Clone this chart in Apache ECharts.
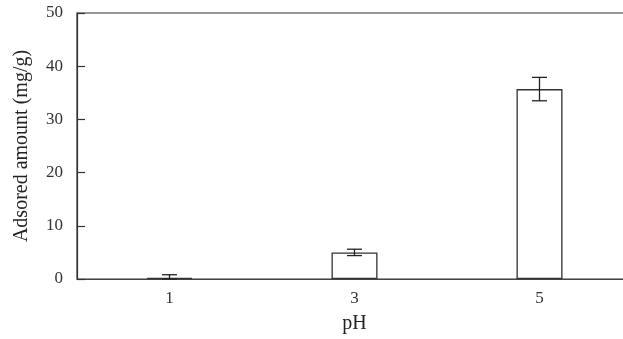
<!DOCTYPE html>
<html>
<head>
<meta charset="utf-8">
<script src="https://cdn.jsdelivr.net/npm/echarts@6/dist/echarts.min.js"></script>
<style>
html,body{margin:0;padding:0;background:#fff;overflow:hidden;}
#chart{width:623px;height:339px;}
</style>
</head>
<body>
<div id="chart"></div>
<script>
var categories = ['1', '3', '5'];
var adsorbed = [0.2, 5.0, 35.7];
var errors = [0.6, 0.6, 2.2];
var yTicks = [0, 10, 20, 30, 40, 50];

var errData = categories.map(function (c, i) {
  return [i, Math.max(0, adsorbed[i] - errors[i]), adsorbed[i] + errors[i]];
});

var font = 'Liberation Serif';
var chart = echarts.init(document.getElementById('chart'), null, { width: 640, height: 339 });
chart.setOption({
  animation: false,
  grid: {
    left: 77, width: 555, top: 13, bottom: 59,
    show: true, borderColor: '#333', borderWidth: 1.2, backgroundColor: 'transparent'
  },
  xAxis: {
    type: 'category',
    data: categories,
    name: 'pH',
    nameLocation: 'middle',
    nameGap: 35,
    nameTextStyle: { fontFamily: font, fontSize: 20, color: '#222' },
    axisLine: { lineStyle: { color: '#444', width: 1.2 } },
    axisTick: { inside: true, length: 6, lineStyle: { color: '#333', width: 1.2 } },
    axisLabel: { fontFamily: font, fontSize: 17, color: '#333', margin: 11 },
    splitLine: { show: false }
  },
  yAxis: {
    type: 'value',
    min: yTicks[0],
    max: yTicks[yTicks.length - 1],
    interval: 10,
    name: 'Adsored amount (mg/g)',
    nameLocation: 'middle',
    nameGap: 45,
    nameTextStyle: { fontFamily: font, fontSize: 20, color: '#222' },
    axisLine: { show: true, lineStyle: { color: '#333', width: 1.2 } },
    axisTick: { show: true, inside: true, length: 8, lineStyle: { color: '#333', width: 1.2 } },
    axisLabel: { fontFamily: font, fontSize: 17, color: '#333', margin: 14 },
    splitLine: { show: false }
  },
  series: [
    {
      type: 'bar',
      data: adsorbed,
      barWidth: 46,
      itemStyle: { color: '#fff', borderColor: '#333', borderWidth: 1.3 }
    },
    {
      type: 'custom',
      data: errData,
      z: 10,
      renderItem: function (params, api) {
        var x = api.value(0);
        var lo = api.coord([x, api.value(1)]);
        var hi = api.coord([x, api.value(2)]);
        var hw = 7.5;
        var st = { stroke: '#222', lineWidth: 1.3 };
        return {
          type: 'group',
          children: [
            { type: 'line', shape: { x1: hi[0], y1: hi[1], x2: lo[0], y2: lo[1] }, style: st },
            { type: 'line', shape: { x1: hi[0] - hw, y1: hi[1], x2: hi[0] + hw, y2: hi[1] }, style: st },
            { type: 'line', shape: { x1: lo[0] - hw, y1: lo[1], x2: lo[0] + hw, y2: lo[1] }, style: st }
          ]
        };
      }
    }
  ]
});
</script>
</body>
</html>
